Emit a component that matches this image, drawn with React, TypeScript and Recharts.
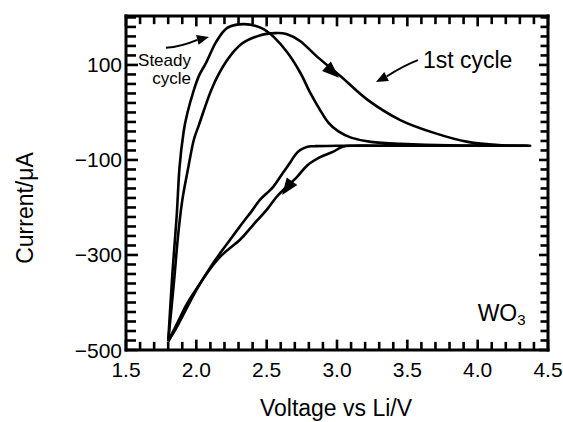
import React from 'react';
import { LineChart, Line, XAxis, YAxis, ReferenceLine, ReferenceDot } from 'recharts';

const FONT = '"Liberation Sans", Arial, Helvetica, sans-serif';

const steadyV = [1.80, 1.83, 1.86, 1.88, 1.91, 1.94, 1.98, 2.02, 2.07, 2.14, 2.22, 2.34, 2.46, 2.55, 2.65, 2.74, 2.81, 2.88, 2.94, 3.01, 3.10, 3.24, 3.45, 3.80, 4.36,
  3.80, 3.30, 3.00, 2.84, 2.79, 2.74, 2.715, 2.69, 2.666, 2.616, 2.545, 2.452, 2.40, 2.32, 2.24, 2.12, 2.00, 1.87, 1.80];
const steadyI = [-482, -338, -220, -117, -40, 3, 45, 78, 105, 148, 178, 186, 178, 159, 125, 83, 41, 5, -22, -40, -53, -62, -66, -69, -70,
  -70, -70, -70, -71, -72, -79, -85, -95, -106, -127, -157, -184, -205, -236, -268, -317, -374, -447, -482];

const firstV = [1.80, 1.84, 1.87, 1.90, 1.94, 1.98, 2.02, 2.11, 2.21, 2.32, 2.45, 2.56, 2.64, 2.74, 2.86, 3.03, 3.22, 3.45, 3.69, 3.93, 4.17, 4.36,
  3.80, 3.30, 3.12, 3.04, 2.97, 2.88, 2.79, 2.715, 2.64, 2.57, 2.50, 2.40, 2.31, 2.15, 1.955, 1.87, 1.80];
const firstI = [-482, -360, -260, -185, -120, -60, -25, 50, 106, 144, 162, 167, 165, 150, 117, 75, 26, -16, -43, -62, -69, -70,
  -70, -70, -70, -72, -83, -94, -111, -136, -157, -178, -205, -238, -268, -310, -392, -440, -482];

const xLabelTicks = [1.5, 2.0, 2.5, 3.0, 3.5, 4.0, 4.5];
const yLabelTicks = [100, -100, -300, -500];

const xTicks: number[] = [];
for (let k = 15; k <= 45; k++) xTicks.push(k / 10);
const yTicks: number[] = [];
for (let k = -500; k <= 200; k += 20) yTicks.push(k);

const toRows = (vs: number[], is: number[]) => vs.map((v, idx) => ({ v, i: is[idx] }));
const steadyData = toRows(steadyV, steadyI);
const firstData = toRows(firstV, firstI);

const isMajor = (v: number, list: number[]) => list.some((t) => Math.abs(t - v) < 1e-6);
const fmtY = (v: number) => (v < 0 ? `\u2212${Math.abs(v)}` : `${v}`);

const smoothCurve = (context: any) => {
  let pts: number[][] = [];
  return {
    areaStart() {},
    areaEnd() {},
    lineStart() { pts = []; },
    point(x: number, y: number) { pts.push([+x, +y]); },
    lineEnd() {
      if (!pts.length) return;
      context.moveTo(pts[0][0], pts[0][1]);
      for (let k = 0; k < pts.length - 1; k++) {
        const p0 = pts[Math.max(0, k - 1)];
        const p1 = pts[k];
        const p2 = pts[k + 1];
        const p3 = pts[Math.min(pts.length - 1, k + 2)];
        const t = 1 / 6;
        context.bezierCurveTo(
          p1[0] + (p2[0] - p0[0]) * t, p1[1] + (p2[1] - p0[1]) * t,
          p2[0] - (p3[0] - p1[0]) * t, p2[1] - (p3[1] - p1[1]) * t,
          p2[0], p2[1]
        );
      }
    },
  };
};

const TW = 2.6;
const TC = '#000';

const TickShape = (props: any) => {
  const { x1, y1, x2, y2 } = props;
  return <path d={`M${x1},${y1} L${x2},${y2}`} stroke={TC} strokeWidth={TW} fill="none" />;
};

const BottomLabel = (props: any) => {
  const { x, y, payload } = props;
  if (!isMajor(payload.value, xLabelTicks)) return <g />;
  return (
    <text x={x} y={y} textAnchor="middle" dominantBaseline="central" fontSize={21} fontFamily={FONT} fill="#000">
      {payload.value.toFixed(1)}
    </text>
  );
};
const LeftLabel = (props: any) => {
  const { x, y, payload } = props;
  if (!isMajor(payload.value, yLabelTicks)) return <g />;
  return (
    <text x={x} y={y} textAnchor="end" dominantBaseline="central" fontSize={21} fontFamily={FONT} fill="#000">
      {fmtY(payload.value)}
    </text>
  );
};
const NoLabel = () => <g />;

const ArrowShape = (props: any) => {
  const { x1, y1, x2, y2 } = props;
  const dx = x2 - x1;
  const dy = y2 - y1;
  const L = Math.hypot(dx, dy) || 1;
  const ux = dx / L;
  const uy = dy / L;
  const hl = 12;
  const hw = 5;
  const bx = x2 - ux * hl;
  const by = y2 - uy * hl;
  const mx = (x1 + bx) / 2 + uy * 3;
  const my = (y1 + by) / 2 + ux * 3;
  return (
    <g>
      <path d={`M${x1},${y1} Q${mx},${my} ${bx},${by}`} stroke="#000" strokeWidth={2} fill="none" />
      <polygon points={`${x2},${y2} ${bx - uy * hw},${by + ux * hw} ${bx + uy * hw},${by - ux * hw}`} fill="#000" />
    </g>
  );
};

const HeadShape = (props: any) => {
  const { x1, y1, x2, y2 } = props;
  const dx = x2 - x1;
  const dy = y2 - y1;
  const L = Math.hypot(dx, dy) || 1;
  const ux = dx / L;
  const uy = dy / L;
  const hl = 17;
  const hw = 6.5;
  const bx = x2 - ux * hl;
  const by = y2 - uy * hl;
  return <polygon points={`${x2},${y2} ${bx - uy * hw},${by + ux * hw} ${bx + uy * hw},${by - ux * hw}`} fill="#000" />;
};

const frame = { stroke: '#000', strokeWidth: 3, strokeLinecap: 'square' as const };

const X_TICK_LEN = 19;
const Y_TICK_LEN = 0.071;

export default function App() {
  const children: any[] = [];
  xTicks.forEach((v) => {
    const f = isMajor(v, xLabelTicks) ? 1.15 : 0.9;
    children.push(<ReferenceLine key={`xb${v}`} segment={[{ x: v, y: -500 }, { x: v, y: -500 + X_TICK_LEN * f }]} shape={TickShape} ifOverflow="visible" />);
    children.push(<ReferenceLine key={`xt${v}`} segment={[{ x: v, y: 203 }, { x: v, y: 203 - X_TICK_LEN * f }]} shape={TickShape} ifOverflow="visible" />);
  });
  yTicks.forEach((v) => {
    const f = isMajor(v, yLabelTicks) ? 1.2 : 1;
    children.push(<ReferenceLine key={`yl${v}`} segment={[{ x: 1.5, y: v }, { x: 1.5 + Y_TICK_LEN * f, y: v }]} shape={TickShape} ifOverflow="visible" />);
    children.push(<ReferenceLine key={`yr${v}`} segment={[{ x: 4.5, y: v }, { x: 4.5 - Y_TICK_LEN * f * 0.75, y: v }]} shape={TickShape} ifOverflow="visible" />);
  });
  return (
    <div style={{ position: 'absolute', left: 0, top: 0, background: '#fff' }}>
      <LineChart width={563} height={422} margin={{ top: 15, right: 14, bottom: 0, left: 56 }}>
        <XAxis
          dataKey="v" type="number" domain={[1.5, 4.5]} ticks={xTicks} interval={0}
          height={72} tickSize={0} tickMargin={19} tickLine={false} axisLine={frame} tick={BottomLabel}
          allowDataOverflow
          label={{
            content: () => (
              <text x={336} y={408} textAnchor="middle" dominantBaseline="central" fontSize={23} fontFamily={FONT} fill="#000">
                Voltage vs Li/V
              </text>
            ),
          }}
        />
        <XAxis
          xAxisId="top" orientation="top" dataKey="v" type="number" domain={[1.5, 4.5]} ticks={xTicks} interval={0}
          height={1} tickSize={0} tickMargin={0} tickLine={false} axisLine={frame} tick={NoLabel} allowDataOverflow
        />
        <YAxis
          type="number" domain={[-500, 203]} ticks={yTicks} interval={0} width={70}
          tickSize={0} tickMargin={4} tickLine={false} axisLine={frame} tick={LeftLabel} allowDataOverflow
          label={{
            content: () => (
              <text x={25} y={208} transform="rotate(-90 25 208)" textAnchor="middle" dominantBaseline="central" fontSize={23} fontFamily={FONT} fill="#000">
                Current/μA
              </text>
            ),
          }}
        />
        <YAxis
          yAxisId="right" orientation="right" type="number" domain={[-500, 203]} ticks={yTicks} interval={0} width={1}
          tickSize={0} tickMargin={0} tickLine={false} axisLine={frame} tick={NoLabel} allowDataOverflow
        />

        {children}

        <Line data={steadyData} dataKey="i" type={smoothCurve as any} stroke="#000" strokeWidth={2.6} dot={false} isAnimationActive={false} />
        <Line data={firstData} dataKey="i" type={smoothCurve as any} stroke="#000" strokeWidth={2.6} dot={false} isAnimationActive={false} />

        <ReferenceLine segment={[{ x: 1.784, y: 136 }, { x: 2.09, y: 159 }]} shape={ArrowShape} />
        <ReferenceLine segment={[{ x: 3.575, y: 110 }, { x: 3.277, y: 64 }]} shape={ArrowShape} />
        <ReferenceLine segment={[{ x: 2.9, y: 104 }, { x: 3.014, y: 73 }]} shape={HeadShape} />
        <ReferenceLine segment={[{ x: 2.687, y: -142 }, { x: 2.61, y: -174 }]} shape={HeadShape} />

        <ReferenceDot
          x={1.962} y={110} r={1}
          shape={(p: any) => (
            <text x={p.cx} y={p.cy} textAnchor="end" dominantBaseline="central" fontSize={17} fontFamily={FONT} fill="#000">
              <tspan x={p.cx} dy={0}>Steady</tspan>
              <tspan x={p.cx} dy={18}>cycle</tspan>
            </text>
          )}
        />
        <ReferenceDot
          x={3.611} y={110} r={1}
          shape={(p: any) => (
            <text x={p.cx} y={p.cy} textAnchor="start" dominantBaseline="central" fontSize={23} fontFamily={FONT} fill="#000">
              1st cycle
            </text>
          )}
        />
        <ReferenceDot
          x={4.0} y={-422} r={1}
          shape={(p: any) => (
            <text x={p.cx} y={p.cy} textAnchor="start" dominantBaseline="central" fontSize={23} fontFamily={FONT} fill="#000">
              WO<tspan fontSize={15} dy={6}>3</tspan>
            </text>
          )}
        />
      </LineChart>
    </div>
  );
}
